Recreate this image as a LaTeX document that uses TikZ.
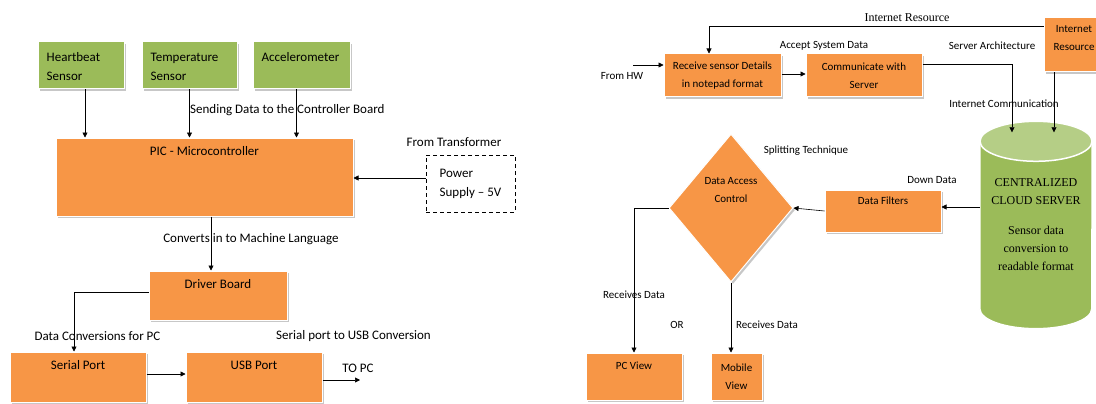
\documentclass[tikz,border=0pt]{standalone}
\usepackage{fontspec}
\setmainfont{Carlito}
\newfontfamily\timesfont{Liberation Serif}
\usetikzlibrary{shapes,shadows,arrows.meta,backgrounds}
\definecolor{boxorange}{HTML}{F79646}
\definecolor{boxgreen}{HTML}{9BBB59}
\definecolor{cyltop}{HTML}{B5CE86}

\begin{document}
\begin{tikzpicture}[x=1pt,y=-1pt,
  blk/.style={rectangle,draw=white,line width=1pt,inner sep=0,fill=boxorange,drop shadow={shadow xshift=2pt,shadow yshift=-2pt,fill=black!22,opacity=1}},
  sens/.style={blk,fill=boxgreen},
  note/.style={font=\fontsize{13}{19}\selectfont,inner sep=0},
  small/.style={font=\fontsize{11}{18}\selectfont,inner sep=0},
  serif/.style={font=\timesfont\fontsize{12}{18}\selectfont,inner sep=0},
  arr/.style={-{Triangle[length=5pt,width=5pt]},line width=0.6pt}]
\useasboundingbox (0,0) rectangle (1096,404);
\clip (0,0) rectangle (1096,404);

% hardware side
\foreach \nm/\cx/\w/\txt in {hb/81/86/{Heartbeat\\Sensor},tmp/189.5/95/{Temperature\\Sensor},acc/301.5/97/{Accelerometer}}{%
  \node[sens,minimum width=\w,minimum height=47,label={[note,align=left,anchor=north west,xshift=9,yshift=-11]north west:\txt}] (\nm) at (\cx,65.5) {};}
\node[blk,minimum width=297,minimum height=78,label={[note,anchor=north,yshift=-9]north:PIC - Microcontroller}] (pic) at (204.5,177) {};
\foreach \nm/\dx in {hb/4,tmp/0,acc/-5}{%
  \draw[arr] ([xshift=\dx]\nm.south) -- ([xshift=\dx]\nm.south |- pic.north);}
\node[note,anchor=west] (snd) at (190,110) {Sending Data to the Controller Board};

\node[note,draw,line width=0.6pt,dash pattern=on 4pt off 3pt,minimum width=89,minimum height=57,align=left] (pwr) at (470.5,183.5) {Power\\Supply -- 5V};
\node[note] (trf) at (454,142) {From Transformer};
\draw[arr] ([yshift=5.5]pwr.west) -- ([yshift=5.5]pwr.west -| pic.east);

\node[blk,minimum width=138,minimum height=49,label={[note,anchor=north,yshift=-9]north:Driver Board}] (drv) at (218,295.5) {};
\draw[arr] ([xshift=-7]drv.north |- pic.south) -- ([xshift=-7]drv.north);
\node[note] (cnv) at (251,239) {Converts in to Machine Language};

\node[blk,minimum width=136,minimum height=50,label={[note,anchor=north,yshift=-9]north:Serial Port}] (ser) at (78,377) {};
\node[blk,minimum width=136,minimum height=50,label={[note,anchor=north,yshift=-9]north:USB Port}] (usb) at (254,377) {};
\draw[arr] ([yshift=3.5]drv.west) -| ([xshift=-4]ser.north);
\draw[arr] ([yshift=3]ser.east) -- ([yshift=3]usb.west);
\coordinate (topc) at (360,380);
\draw[arr] (usb.east |- topc) -- (topc);
\node[note] (tpc) at (358,368) {TO PC};
\node[note] (dcp) at (97.5,336) {Data Conversions for PC};
\node[note] (s2u) at (353.5,336) {Serial port to USB Conversion};

% cloud side
\node[blk,minimum width=60,minimum height=54,label={[small,align=center,anchor=north,yshift=-8]north:Internet\\Resource}] (inet) at (1074,45) {};
\node[serif] (irl) at (907,18) {Internet Resource};
\node[blk,small,align=center,minimum width=117,minimum height=43] (rcv) at (722.5,75.5) {Receive sensor Details\\in notepad format};
\node[blk,small,align=center,minimum width=116,minimum height=43] (com) at (864,75.5) {Communicate with\\Server};
\draw[arr] ([yshift=19]inet.west) -| ([xshift=-13.5]rcv.north);
\coordinate (hw) at (633,65);
\draw[arr] (hw) -- (hw -| rcv.west);
\node[small] (fhw) at (622,76) {From HW};
\draw[arr] ([yshift=1.5]rcv.east) -- ([yshift=1.5]com.west);
\node[small] (asd) at (824,46) {Accept System Data};
\node[small] (sva) at (992,46) {Server Architecture};
\node[small] (inc) at (1004,104) {Internet Communication};

\node[serif,align=center,minimum width=112,minimum height=207] (srv) at (1036,225) {CENTRALIZED\\CLOUD SERVER\\[12pt]Sensor data\\conversion to\\readable format};
\begin{scope}[on background layer]
  % cylinder drawn behind the server text
  \fill[black!22,xshift=2pt,yshift=-2pt] ([yshift=-20]srv.north west) -- ([yshift=20]srv.south west)
    arc[start angle=180,end angle=0,x radius=56,y radius=20] -- ([yshift=-20]srv.north east)
    arc[start angle=0,end angle=-180,x radius=56,y radius=20] -- cycle;
  \filldraw[fill=boxgreen,draw=white,line width=1.5pt] ([yshift=-20]srv.north west) -- ([yshift=20]srv.south west)
    arc[start angle=180,end angle=0,x radius=56,y radius=20] -- ([yshift=-20]srv.north east)
    arc[start angle=0,end angle=-180,x radius=56,y radius=20] -- cycle;
  \filldraw[fill=cyltop,draw=white,line width=1.5pt] ([yshift=-20]srv.north) ellipse[x radius=56,y radius=20];
\end{scope}
\draw[arr] ([yshift=11.5]com.east) -| ([xshift=-24,yshift=-11]srv.north);
\draw[arr] ([xshift=-20]inet.south) -- ([xshift=-20,yshift=-11]inet.south |- srv.north);

\node[blk,minimum width=116,minimum height=42,label={[small,anchor=north,yshift=-7]north:Data Filters}] (dfl) at (883,211) {};
\draw[arr] ([yshift=18]srv.west) -- ([yshift=18]srv.west -| dfl.east);
\node[small] (dwd) at (932,180) {Down Data};
\node[blk,diamond,minimum width=124,minimum height=148,label={[small,align=center,yshift=18]center:Data Access\\Control}] (dac) at (731,208) {};
\draw[arr] (dfl.west) -- (dac.east);
\node[small] (spl) at (806,151) {Splitting Technique};

\node[blk,minimum width=96,minimum height=47,label={[small,anchor=north,yshift=-9]north:PC View}] (pcv) at (634,376.5) {};
\node[blk,small,align=center,minimum width=51,minimum height=47] (mbv) at (736.5,376.5) {Mobile\\View};
\draw[arr] (dac.west) -| (pcv.north);
\draw[arr] (dac.south) -- (dac.south |- mbv.north);
\node[small] (rd1) at (634,295) {Receives Data};
\node[small] (orr) at (677,325) {OR};
\node[small] (rd2) at (767,325) {Receives Data};
\end{tikzpicture}
\end{document}
